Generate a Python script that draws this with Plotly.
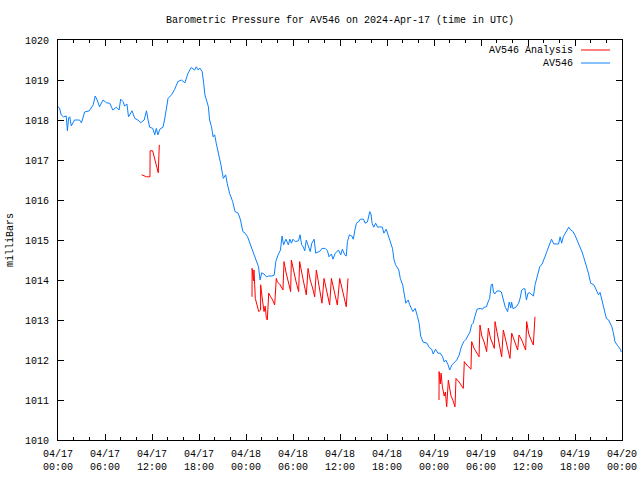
import pandas as pd
import plotly.graph_objects as go

START = pd.Timestamp("2024-04-17 00:00")

# Observed pressure (hours since 04/17 00:00 UTC, mb)
obs_hours = [0.0, 0.2, 0.4, 0.7, 1.05, 1.2, 1.35, 1.5, 1.7, 2.1, 2.5, 2.75, 3.0, 3.4, 4.0, 4.5, 4.75, 5.0, 5.3, 5.75,
             6.2, 6.6, 7.0, 7.45, 7.8, 8.0, 8.3, 8.5, 8.8, 9.0, 9.45, 9.8, 10.2, 10.55, 11.0, 11.3, 11.5, 11.7, 12.1, 12.35,
             12.55, 12.75, 13.0, 13.4, 13.6, 14.05, 14.5, 14.9, 15.3, 15.75, 16.2, 16.6, 17.0, 17.45, 17.65, 17.9, 18.1, 18.4, 18.6, 18.75,
             18.95, 19.2, 19.35, 19.6, 19.8, 20.0, 20.2, 20.5, 20.8, 21.1, 21.4, 21.6, 21.9, 22.3, 22.6, 23.0, 23.3, 23.6, 23.9, 24.2,
             24.5, 24.7, 24.9, 25.3, 25.6, 25.8, 26.0, 26.3, 26.6, 26.9, 27.3, 27.6, 27.8, 28.1, 28.4, 28.6, 28.8, 29.1, 29.4, 29.6,
             29.8, 30.0, 30.3, 30.7, 30.9, 31.1, 31.3, 31.5, 31.7, 31.9, 32.2, 32.4, 32.7, 32.9, 33.2, 33.5, 33.7, 34.1, 34.4, 34.6,
             34.9, 35.1, 35.4, 35.8, 36.1, 36.3, 36.6, 36.8, 36.95, 37.2, 37.5, 37.7, 37.9, 38.1, 38.4, 38.6, 39.0, 39.2, 39.5, 39.8,
             39.95, 40.1, 40.3, 40.55, 40.8, 41.1, 41.4, 41.6, 41.9, 42.2, 42.4, 42.7, 42.9, 43.1, 43.5, 43.7, 44.0, 44.2, 44.4, 44.7,
             44.9, 45.3, 45.6, 45.9, 46.1, 46.3, 46.6, 47.1, 47.4, 47.7, 47.9, 48.2, 48.5, 48.8, 49.1, 49.3, 49.5, 49.8, 50.0, 50.3,
             50.6, 50.9, 51.2, 51.5, 51.8, 52.1, 52.3, 52.6, 52.8, 53.0, 53.2, 53.5, 53.9, 54.2, 54.4, 54.7, 54.9, 55.1, 55.3, 55.45,
             55.6, 55.75, 56.0, 56.3, 56.6, 56.9, 57.1, 57.4, 57.6, 57.8, 57.9, 58.1, 58.5, 58.8, 59.0, 59.2, 59.4, 59.6, 59.8, 60.0,
             60.2, 60.5, 60.7, 60.9, 61.1, 61.3, 61.5, 61.8, 62.0, 62.2, 62.4, 62.6, 62.8, 63.0, 63.3, 63.6, 63.9, 64.1, 64.3, 64.5,
             64.7, 64.9, 65.2, 65.45, 65.7, 66.0, 66.2, 66.4, 66.7, 66.9, 67.1, 67.3, 67.5, 67.7, 68.0, 68.4, 68.6, 68.8, 69.0, 69.2,
             69.4, 69.6, 69.8, 70.0, 70.3, 70.5, 70.7, 70.9, 71.1, 71.4, 71.6, 71.8, 71.9]
obs_mb = [1018.33, 1018.3, 1018.13, 1018.08, 1018.1, 1017.73, 1018.05, 1018.08, 1017.85, 1018.0, 1018.0, 1018.0, 1017.93, 1018.2, 1018.23, 1018.38, 1018.6, 1018.5, 1018.33, 1018.5,
          1018.43, 1018.42, 1018.25, 1018.32, 1018.25, 1018.52, 1018.46, 1018.35, 1018.4, 1018.08, 1018.23, 1018.04, 1018.0, 1017.93, 1018.0, 1018.23, 1018.0, 1017.82, 1017.79, 1017.63,
          1017.79, 1017.63, 1017.77, 1017.82, 1018.0, 1018.54, 1018.63, 1018.77, 1018.96, 1019.0, 1018.93, 1019.17, 1019.31, 1019.25, 1019.33, 1019.25, 1019.3, 1019.21, 1018.92, 1018.63,
          1018.5, 1018.33, 1018.0, 1017.83, 1017.58, 1017.63, 1017.42, 1017.17, 1016.88, 1016.54, 1016.63, 1016.42, 1016.17, 1015.96, 1015.71, 1015.67, 1015.5, 1015.21, 1015.17, 1015.08,
          1014.92, 1014.79, 1014.67, 1014.46, 1014.33, 1014.0, 1014.18, 1014.15, 1014.08, 1014.1, 1014.1, 1014.12, 1014.46, 1014.63, 1014.75, 1015.1, 1014.88, 1015.02, 1014.88, 1015.02,
          1014.92, 1015.02, 1014.96, 1014.98, 1015.13, 1014.88, 1014.83, 1014.73, 1015.0, 1014.88, 1014.71, 1014.92, 1015.02, 1014.67, 1014.71, 1014.73, 1014.79, 1014.79, 1014.73, 1014.58,
          1014.65, 1014.52, 1014.67, 1014.75, 1014.63, 1014.77, 1014.63, 1014.6, 1014.96, 1015.13, 1015.1, 1015.02, 1015.25, 1015.42, 1015.46, 1015.52, 1015.52, 1015.42, 1015.45, 1015.71,
          1015.65, 1015.42, 1015.32, 1015.42, 1015.32, 1015.33, 1015.32, 1015.17, 1015.27, 1015.08, 1014.96, 1014.79, 1014.5, 1014.38, 1014.25, 1014.04, 1013.88, 1013.63, 1013.42, 1013.5,
          1013.38, 1013.21, 1013.29, 1013.08, 1012.92, 1012.6, 1012.45, 1012.42, 1012.31, 1012.27, 1012.15, 1012.27, 1012.17, 1012.17, 1012.08, 1011.95, 1012.0, 1011.88, 1011.75, 1011.88,
          1011.95, 1012.0, 1012.12, 1012.33, 1012.46, 1012.52, 1012.6, 1012.7, 1012.88, 1012.92, 1013.08, 1013.27, 1013.29, 1013.27, 1013.32, 1013.33, 1013.45, 1013.54, 1013.88, 1013.9,
          1013.7, 1013.65, 1013.72, 1013.73, 1013.7, 1013.5, 1013.32, 1013.21, 1013.45, 1013.3, 1013.45, 1013.28, 1013.33, 1013.42, 1013.55, 1013.75, 1013.78, 1013.78, 1013.5, 1013.67,
          1013.68, 1013.63, 1013.6, 1013.88, 1014.04, 1014.17, 1014.33, 1014.4, 1014.48, 1014.6, 1014.71, 1014.83, 1014.93, 1015.02, 1014.9, 1014.9, 1014.9, 1015.08, 1014.92, 1015.08,
          1015.15, 1015.2, 1015.32, 1015.25, 1015.22, 1015.12, 1015.03, 1014.95, 1014.83, 1014.7, 1014.58, 1014.46, 1014.33, 1014.18, 1013.92, 1013.88, 1013.8, 1013.73, 1013.63, 1013.69,
          1013.54, 1013.35, 1013.25, 1013.04, 1013.0, 1012.93, 1012.83, 1012.68, 1012.46, 1012.37, 1012.31, 1012.27, 1012.2]

# Analysis series, three separate periods
ana1_hours = [10.68, 11.3, 11.74, 11.76, 12.08, 12.8, 12.93]
ana1_mb = [1016.63, 1016.58, 1016.58, 1017.23, 1017.23, 1016.68, 1017.38]

ana2_hours = [24.77, 24.78, 24.95, 25.02, 25.19, 25.45, 25.62, 25.86, 25.87, 26.1, 26.3, 26.45, 26.6, 26.72, 26.9, 27.15, 27.4, 27.66,
              27.87, 28.0, 28.3, 28.72, 28.85, 29.1, 29.4, 29.7, 29.79, 30.1, 30.4, 30.72, 30.85, 31.2, 31.45, 31.7, 31.92, 32.2,
              32.5, 32.77, 32.98, 33.3, 33.7, 33.96, 34.3, 34.68, 34.9, 35.3, 35.66, 35.96, 36.4, 36.8, 37.02]
ana2_mb = [1013.58, 1014.29, 1013.98, 1014.25, 1013.54, 1013.33, 1013.21, 1013.25, 1013.88, 1013.5, 1013.21, 1013.35, 1013.04, 1013.0, 1013.67, 1013.58, 1013.5, 1013.375,
           1014.04, 1013.95, 1013.9, 1013.75, 1014.46, 1014.2, 1013.95, 1013.71, 1014.5, 1014.2, 1013.95, 1013.71, 1014.46, 1014.1, 1013.9, 1013.625, 1014.29, 1014.0,
           1013.8, 1013.58, 1014.25, 1013.85, 1013.42, 1014.04, 1013.75, 1013.375, 1014.04, 1013.7, 1013.375, 1014.04, 1013.65, 1013.33, 1014.04]

ana3_hours = [48.64, 48.65, 48.8, 48.9, 49.07, 49.3, 49.45, 49.62, 49.83, 50.0, 50.17, 50.4, 50.68, 50.81, 51.2, 51.74, 51.87, 52.3,
              52.72, 52.81, 53.1, 53.4, 53.75, 53.87, 54.1, 54.4, 54.72, 54.94, 55.2, 55.5, 55.7, 55.79, 56.1, 56.4, 56.64, 56.85,
              57.2, 57.45, 57.7, 57.92, 58.2, 58.45, 58.68, 58.85, 59.2, 59.5, 59.7, 59.83, 60.1, 60.4, 60.68, 60.89]
ana3_mb = [1011.0, 1011.71, 1011.4, 1011.67, 1011.33, 1011.1, 1011.2, 1010.83, 1011.5, 1011.3, 1011.1, 1011.0, 1010.83, 1011.54, 1011.45, 1011.29, 1011.96, 1011.85,
           1011.77, 1012.46, 1012.3, 1012.2, 1012.08, 1012.875, 1012.6, 1012.45, 1012.21, 1012.8, 1012.55, 1012.4, 1012.29, 1012.96, 1012.6, 1012.3, 1012.08, 1012.75,
           1012.45, 1012.3, 1012.04, 1012.67, 1012.5, 1012.4, 1012.25, 1012.625, 1012.5, 1012.35, 1012.25, 1012.96, 1012.65, 1012.5, 1012.375, 1013.08]

tick_hours = [0, 6, 12, 18, 24, 30, 36, 42, 48, 54, 60, 66, 72]
tick_labels = ["04/17<br>00:00", "04/17<br>06:00", "04/17<br>12:00", "04/17<br>18:00",
               "04/18<br>00:00", "04/18<br>06:00", "04/18<br>12:00", "04/18<br>18:00",
               "04/19<br>00:00", "04/19<br>06:00", "04/19<br>12:00", "04/19<br>18:00",
               "04/20<br>00:00"]
y_ticks = [1010, 1011, 1012, 1013, 1014, 1015, 1016, 1017, 1018, 1019, 1020]


def to_time(hours):
    return [START + pd.Timedelta(hours=h) for h in hours]


ana_x, ana_y = [], []
for hs, vs in [(ana1_hours, ana1_mb), (ana2_hours, ana2_mb), (ana3_hours, ana3_mb)]:
    ana_x += to_time(hs) + [None]
    ana_y += vs + [None]

RED = "#ff0000"
BLUE = "#0a80ff"
FONT = "Liberation Mono, DejaVu Sans Mono, monospace"

fig = go.Figure()
fig.add_trace(go.Scatter(x=to_time(obs_hours), y=obs_mb, mode="lines", name="AV546",
                         line=dict(color=BLUE, width=1), showlegend=False))
fig.add_trace(go.Scatter(x=ana_x, y=ana_y, mode="lines", name="AV546 Analysis", connectgaps=False,
                         line=dict(color=RED, width=1), showlegend=False))

fig.update_layout(
    width=640, height=480,
    margin=dict(l=58, r=18, t=40, b=40, autoexpand=False),
    paper_bgcolor="white", plot_bgcolor="white",
    font=dict(family=FONT, size=10, color="black"),
    title=dict(text="Barometric Pressure for AV546 on 2024-Apr-17 (time in UTC)",
               x=340 / 640, xanchor="center", y=1 - 19 / 480, yanchor="middle",
               font=dict(family=FONT, size=10, color="black"), automargin=False),
)
fig.update_xaxes(
    range=[START, START + pd.Timedelta(hours=72)],
    tickvals=to_time(tick_hours), ticktext=tick_labels,
    ticks="inside", ticklen=6, tickcolor="black", tickwidth=1,
    showline=True, linecolor="black", linewidth=1, mirror="ticks",
    showgrid=False, zeroline=False, automargin=False,
    minor=dict(ticks="inside", ticklen=3, tickcolor="black", dtick=2 * 3600 * 1000,
               tick0=START, showgrid=False),
    ticklabelstandoff=4,
)
fig.update_yaxes(
    range=[1010, 1020], tickvals=y_ticks,
    ticks="inside", ticklen=6, tickcolor="black", tickwidth=1,
    showline=True, linecolor="black", linewidth=1, mirror="ticks",
    showgrid=False, zeroline=False, ticklabelstandoff=6, automargin=False,
)

# y-axis label
fig.add_annotation(text="milliBars", xref="paper", yref="paper", x=(10 - 58) / 564, y=0.5,
                   xanchor="center", yanchor="middle",
                   textangle=-90, showarrow=False, font=dict(family=FONT, size=10))

# gnuplot-style key: right-aligned text with sample line on its right
key = [("AV546 Analysis", RED, 50), ("AV546", BLUE, 63)]
for label, color, py in key:
    yp = (440 - py) / 400
    fig.add_annotation(text=label, xref="paper", yref="paper", x=(575 - 58) / 564, y=yp,
                       xanchor="right", yanchor="middle", showarrow=False,
                       font=dict(family=FONT, size=10))
    fig.add_shape(type="line", xref="paper", yref="paper",
                  x0=(581 - 58) / 564, x1=(610 - 58) / 564, y0=yp, y1=yp,
                  line=dict(color=color, width=1))

fig.write_html("out.html", config={"displayModeBar": False},
               post_script="document.body.style.margin='0px';document.body.style.overflow='hidden';")
